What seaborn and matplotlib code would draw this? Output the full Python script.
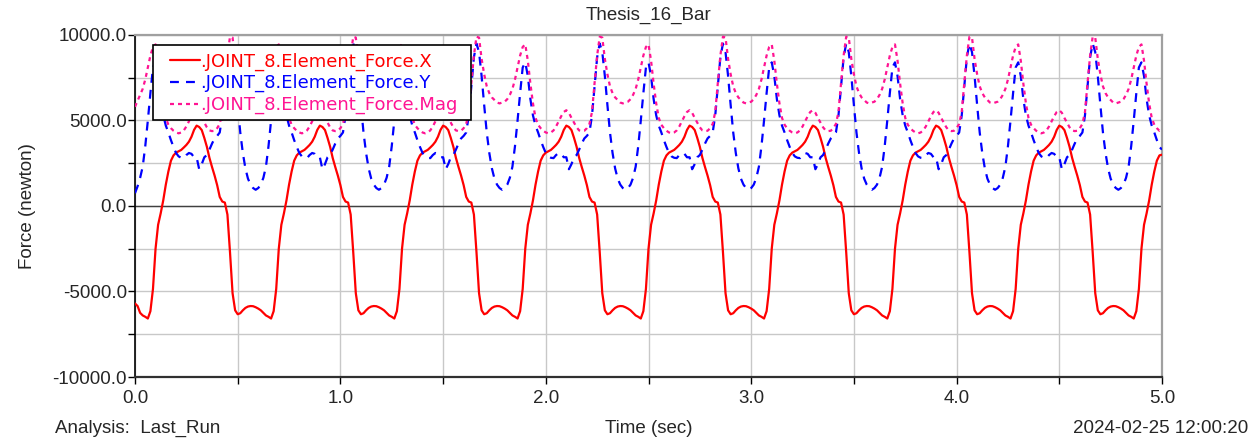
import numpy as np
import matplotlib
matplotlib.use("Agg")
import matplotlib.pyplot as plt
from matplotlib.patches import Rectangle
import seaborn as sns
from matplotlib.ticker import MultipleLocator, FormatStrFormatter

# JOINT_8 element force, sampled every 0.0125 s over 0..5 s.
# Each row below covers one 0.6 s cycle of the linkage (48 samples).
force_x = [
    -5700, -5850, -6250, -6400, -6480, -6580, -6150, -4850, -2500, -1100, -430, 330, 1250, 2020, 2650, 2960, 3120, 3200, 3280, 3420, 3570, 3760, 4050, 4450, 4700, 4620, 4440, 3980, 3460, 2810, 2280, 1780, 1220, 530, 260, 200, -500, -2700, -5100, -6100, -6330, -6270, -6100, -5960, -5880, -5850, -5860, -5920,
    -6000, -6100, -6250, -6400, -6480, -6580, -6150, -4850, -2500, -1100, -430, 330, 1250, 2020, 2650, 2960, 3120, 3200, 3280, 3420, 3570, 3760, 4050, 4450, 4700, 4620, 4440, 3980, 3460, 2810, 2280, 1780, 1220, 530, 260, 200, -500, -2700, -5100, -6100, -6330, -6270, -6100, -5960, -5880, -5850, -5860, -5920,
    -6000, -6100, -6250, -6400, -6480, -6580, -6150, -4850, -2500, -1100, -430, 330, 1250, 2020, 2650, 2960, 3120, 3200, 3280, 3420, 3570, 3760, 4050, 4450, 4700, 4620, 4440, 3980, 3460, 2810, 2280, 1780, 1220, 530, 260, 200, -500, -2700, -5100, -6100, -6330, -6270, -6100, -5960, -5880, -5850, -5860, -5920,
    -6000, -6100, -6250, -6400, -6480, -6580, -6150, -4850, -2500, -1100, -430, 330, 1250, 2020, 2650, 2960, 3120, 3200, 3280, 3420, 3570, 3760, 4050, 4450, 4700, 4620, 4440, 3980, 3460, 2810, 2280, 1780, 1220, 530, 260, 200, -500, -2700, -5100, -6100, -6330, -6270, -6100, -5960, -5880, -5850, -5860, -5920,
    -6000, -6100, -6250, -6400, -6480, -6580, -6150, -4850, -2500, -1100, -430, 330, 1250, 2020, 2650, 2960, 3120, 3200, 3280, 3420, 3570, 3760, 4050, 4450, 4700, 4620, 4440, 3980, 3460, 2810, 2280, 1780, 1220, 530, 260, 200, -500, -2700, -5100, -6100, -6330, -6270, -6100, -5960, -5880, -5850, -5860, -5920,
    -6000, -6100, -6250, -6400, -6480, -6580, -6150, -4850, -2500, -1100, -430, 330, 1250, 2020, 2650, 2960, 3120, 3200, 3280, 3420, 3570, 3760, 4050, 4450, 4700, 4620, 4440, 3980, 3460, 2810, 2280, 1780, 1220, 530, 260, 200, -500, -2700, -5100, -6100, -6330, -6270, -6100, -5960, -5880, -5850, -5860, -5920,
    -6000, -6100, -6250, -6400, -6480, -6580, -6150, -4850, -2500, -1100, -430, 330, 1250, 2020, 2650, 2960, 3120, 3200, 3280, 3420, 3570, 3760, 4050, 4450, 4700, 4620, 4440, 3980, 3460, 2810, 2280, 1780, 1220, 530, 260, 200, -500, -2700, -5100, -6100, -6330, -6270, -6100, -5960, -5880, -5850, -5860, -5920,
    -6000, -6100, -6250, -6400, -6480, -6580, -6150, -4850, -2500, -1100, -430, 330, 1250, 2020, 2650, 2960, 3120, 3200, 3280, 3420, 3570, 3760, 4050, 4450, 4700, 4620, 4440, 3980, 3460, 2810, 2280, 1780, 1220, 530, 260, 200, -500, -2700, -5100, -6100, -6330, -6270, -6100, -5960, -5880, -5850, -5860, -5920,
    -6000, -6100, -6250, -6400, -6480, -6580, -6150, -4850, -2500, -1100, -430, 330, 1250, 2020, 2650, 2960, 3000,
]

force_y = [
    750, 1150, 1650, 2300, 3500, 5000, 6600, 8100, 8400, 7600, 6250, 5300, 4700, 4300, 3850, 3450, 3100, 2900, 2820, 2800, 2980, 3100, 3050, 2850, 2850, 2150, 2450, 2850, 2980, 3300, 3650, 3950, 4100, 4300, 5300, 7000, 8700, 9500, 9000, 7600, 5900, 4300, 3100, 2200, 1600, 1250, 1050, 950,
    1050, 1250, 1650, 2300, 3500, 5000, 6600, 8100, 8400, 7600, 6250, 5300, 4700, 4300, 3850, 3450, 3100, 2900, 2820, 2800, 2980, 3100, 3050, 2850, 2850, 2150, 2450, 2850, 2980, 3300, 3650, 3950, 4100, 4300, 5300, 7000, 8700, 9500, 9000, 7600, 5900, 4300, 3100, 2200, 1600, 1250, 1050, 950,
    1050, 1250, 1650, 2300, 3500, 5000, 6600, 8100, 8400, 7600, 6250, 5300, 4700, 4300, 3850, 3450, 3100, 2900, 2820, 2800, 2980, 3100, 3050, 2850, 2850, 2150, 2450, 2850, 2980, 3300, 3650, 3950, 4100, 4300, 5300, 7000, 8700, 9500, 9000, 7600, 5900, 4300, 3100, 2200, 1600, 1250, 1050, 950,
    1050, 1250, 1650, 2300, 3500, 5000, 6600, 8100, 8400, 7600, 6250, 5300, 4700, 4300, 3850, 3450, 3100, 2900, 2820, 2800, 2980, 3100, 3050, 2850, 2850, 2150, 2450, 2850, 2980, 3300, 3650, 3950, 4100, 4300, 5300, 7000, 8700, 9500, 9000, 7600, 5900, 4300, 3100, 2200, 1600, 1250, 1050, 950,
    1050, 1250, 1650, 2300, 3500, 5000, 6600, 8100, 8400, 7600, 6250, 5300, 4700, 4300, 3850, 3450, 3100, 2900, 2820, 2800, 2980, 3100, 3050, 2850, 2850, 2150, 2450, 2850, 2980, 3300, 3650, 3950, 4100, 4300, 5300, 7000, 8700, 9500, 9000, 7600, 5900, 4300, 3100, 2200, 1600, 1250, 1050, 950,
    1050, 1250, 1650, 2300, 3500, 5000, 6600, 8100, 8400, 7600, 6250, 5300, 4700, 4300, 3850, 3450, 3100, 2900, 2820, 2800, 2980, 3100, 3050, 2850, 2850, 2150, 2450, 2850, 2980, 3300, 3650, 3950, 4100, 4300, 5300, 7000, 8700, 9500, 9000, 7600, 5900, 4300, 3100, 2200, 1600, 1250, 1050, 950,
    1050, 1250, 1650, 2300, 3500, 5000, 6600, 8100, 8400, 7600, 6250, 5300, 4700, 4300, 3850, 3450, 3100, 2900, 2820, 2800, 2980, 3100, 3050, 2850, 2850, 2150, 2450, 2850, 2980, 3300, 3650, 3950, 4100, 4300, 5300, 7000, 8700, 9500, 9000, 7600, 5900, 4300, 3100, 2200, 1600, 1250, 1050, 950,
    1050, 1250, 1650, 2300, 3500, 5000, 6600, 8100, 8400, 7600, 6250, 5300, 4700, 4300, 3850, 3450, 3100, 2900, 2820, 2800, 2980, 3100, 3050, 2850, 2850, 2150, 2450, 2850, 2980, 3300, 3650, 3950, 4100, 4300, 5300, 7000, 8700, 9500, 9000, 7600, 5900, 4300, 3100, 2200, 1600, 1250, 1050, 950,
    1050, 1250, 1650, 2300, 3500, 5000, 6600, 8100, 8400, 7600, 6250, 5300, 4700, 4300, 3850, 3450, 3300,
]

force_mag = [
    5800, 6150, 6500, 6850, 7400, 8100, 8800, 9300, 9450, 8500, 7150, 6000, 5150, 4750, 4550, 4400, 4300, 4250, 4300, 4420, 4650, 4950, 5250, 5500, 5600, 5450, 5150, 4880, 4600, 4420, 4380, 4400, 4550, 4800, 5500, 7200, 8800, 9900, 9850, 8600, 7700, 7000, 6600, 6350, 6200, 6050, 6000, 6050,
    6100, 6250, 6500, 6850, 7400, 8100, 8800, 9300, 9450, 8500, 7150, 6000, 5150, 4750, 4550, 4400, 4300, 4250, 4300, 4420, 4650, 4950, 5250, 5500, 5600, 5450, 5150, 4880, 4600, 4420, 4380, 4400, 4550, 4800, 5500, 7200, 8800, 9900, 9850, 8600, 7700, 7000, 6600, 6350, 6200, 6050, 6000, 6050,
    6100, 6250, 6500, 6850, 7400, 8100, 8800, 9300, 9450, 8500, 7150, 6000, 5150, 4750, 4550, 4400, 4300, 4250, 4300, 4420, 4650, 4950, 5250, 5500, 5600, 5450, 5150, 4880, 4600, 4420, 4380, 4400, 4550, 4800, 5500, 7200, 8800, 9900, 9850, 8600, 7700, 7000, 6600, 6350, 6200, 6050, 6000, 6050,
    6100, 6250, 6500, 6850, 7400, 8100, 8800, 9300, 9450, 8500, 7150, 6000, 5150, 4750, 4550, 4400, 4300, 4250, 4300, 4420, 4650, 4950, 5250, 5500, 5600, 5450, 5150, 4880, 4600, 4420, 4380, 4400, 4550, 4800, 5500, 7200, 8800, 9900, 9850, 8600, 7700, 7000, 6600, 6350, 6200, 6050, 6000, 6050,
    6100, 6250, 6500, 6850, 7400, 8100, 8800, 9300, 9450, 8500, 7150, 6000, 5150, 4750, 4550, 4400, 4300, 4250, 4300, 4420, 4650, 4950, 5250, 5500, 5600, 5450, 5150, 4880, 4600, 4420, 4380, 4400, 4550, 4800, 5500, 7200, 8800, 9900, 9850, 8600, 7700, 7000, 6600, 6350, 6200, 6050, 6000, 6050,
    6100, 6250, 6500, 6850, 7400, 8100, 8800, 9300, 9450, 8500, 7150, 6000, 5150, 4750, 4550, 4400, 4300, 4250, 4300, 4420, 4650, 4950, 5250, 5500, 5600, 5450, 5150, 4880, 4600, 4420, 4380, 4400, 4550, 4800, 5500, 7200, 8800, 9900, 9850, 8600, 7700, 7000, 6600, 6350, 6200, 6050, 6000, 6050,
    6100, 6250, 6500, 6850, 7400, 8100, 8800, 9300, 9450, 8500, 7150, 6000, 5150, 4750, 4550, 4400, 4300, 4250, 4300, 4420, 4650, 4950, 5250, 5500, 5600, 5450, 5150, 4880, 4600, 4420, 4380, 4400, 4550, 4800, 5500, 7200, 8800, 9900, 9850, 8600, 7700, 7000, 6600, 6350, 6200, 6050, 6000, 6050,
    6100, 6250, 6500, 6850, 7400, 8100, 8800, 9300, 9450, 8500, 7150, 6000, 5150, 4750, 4550, 4400, 4300, 4250, 4300, 4420, 4650, 4950, 5250, 5500, 5600, 5450, 5150, 4880, 4600, 4420, 4380, 4400, 4550, 4800, 5500, 7200, 8800, 9900, 9850, 8600, 7700, 7000, 6600, 6350, 6200, 6050, 6000, 6050,
    6100, 6250, 6500, 6850, 7400, 8100, 8800, 9300, 9450, 8500, 7150, 6000, 5150, 4750, 4550, 4400, 4500,
]

time_sec = np.linspace(0.0, 5.0, len(force_x))

series_names = [
    ".JOINT_8.Element_Force.X",
    ".JOINT_8.Element_Force.Y",
    ".JOINT_8.Element_Force.Mag",
]
series_colors = ["#ff0000", "#0000ff", "#ff1493"]

plot_title = "Thesis_16_Bar"
y_label = "Force (newton)"
x_label = "Time (sec)"
run_label = "Analysis:  Last_Run"
stamp_label = "2024-02-25 12:00:20"

sns.set_theme(style="white")
plt.rcParams["font.family"] = ["Liberation Sans", "DejaVu Sans"]
FS = 13.5

fig = plt.figure(figsize=(12.6, 4.44), dpi=100)
ax = fig.add_axes([135 / 1260, 1 - 377 / 444, (1162 - 135) / 1260, (377 - 35) / 444])

line_styles = ["-", (0, (4, 3.2)), (0, (1.8, 1.8))]
for vals, name, col, ls in zip([force_x, force_y, force_mag], series_names, series_colors, line_styles):
    sns.lineplot(x=time_sec, y=vals, ax=ax, color=col, linestyle=ls,
                 linewidth=1.6, label=name, estimator=None, sort=False, zorder=3)

ax.set_xlim(0, 5)
ax.set_ylim(-10000, 10000)
ax.xaxis.set_major_locator(MultipleLocator(1.0))
ax.xaxis.set_minor_locator(MultipleLocator(0.5))
ax.yaxis.set_major_locator(MultipleLocator(5000))
ax.yaxis.set_minor_locator(MultipleLocator(2500))
ax.xaxis.set_major_formatter(FormatStrFormatter("%.1f"))
ax.yaxis.set_major_formatter(FormatStrFormatter("%.1f"))

ax.grid(True, which="both", color="#c8c8c8", linewidth=1.0, zorder=0)
ax.axhline(0, color="#404040", linewidth=1.0, zorder=1)

ax.tick_params(axis="both", which="both", direction="out", length=5, width=1,
               color="black", labelsize=FS, bottom=True, left=True)
ax.tick_params(axis="y", which="both", pad=0.8)
ax.tick_params(axis="x", which="both", pad=4)

for side, col, lw in [("left", "#000000", 1.2), ("bottom", "#303030", 1.6),
                      ("top", "#a0a0a0", 1.6), ("right", "#a0a0a0", 1.6)]:
    ax.spines[side].set_color(col)
    ax.spines[side].set_linewidth(lw)
    ax.spines[side].set_visible(True)

ax.set_title(plot_title, fontsize=FS, pad=11)
ax.set_ylabel(y_label, fontsize=FS, labelpad=12)
ax.set_xlabel(x_label, fontsize=FS, labelpad=9.5)

# legend box: white panel with a thin black border, entries drawn on top
ax.add_patch(Rectangle((0.0178, 0.7515), 0.3091, 0.2193, transform=ax.transAxes,
                       facecolor="white", edgecolor="black", linewidth=1.2, zorder=4))
leg = ax.legend(loc="upper left", bbox_to_anchor=(0.0341, 0.949), borderaxespad=0,
                frameon=False, prop={"family": "DejaVu Sans", "size": 13},
                handlelength=1.65, handletextpad=0.0, labelspacing=0.19, borderpad=0)
leg.set_zorder(5)
for txt, col in zip(leg.get_texts(), series_colors):
    txt.set_color(col)

fig.text(55 / 1260, 1 - 428 / 444, run_label, fontsize=FS, ha="left", va="center")
fig.text(1248 / 1260, 1 - 428 / 444, stamp_label, fontsize=FS, ha="right", va="center")

fig.savefig("out.png", dpi=100, facecolor="white")
